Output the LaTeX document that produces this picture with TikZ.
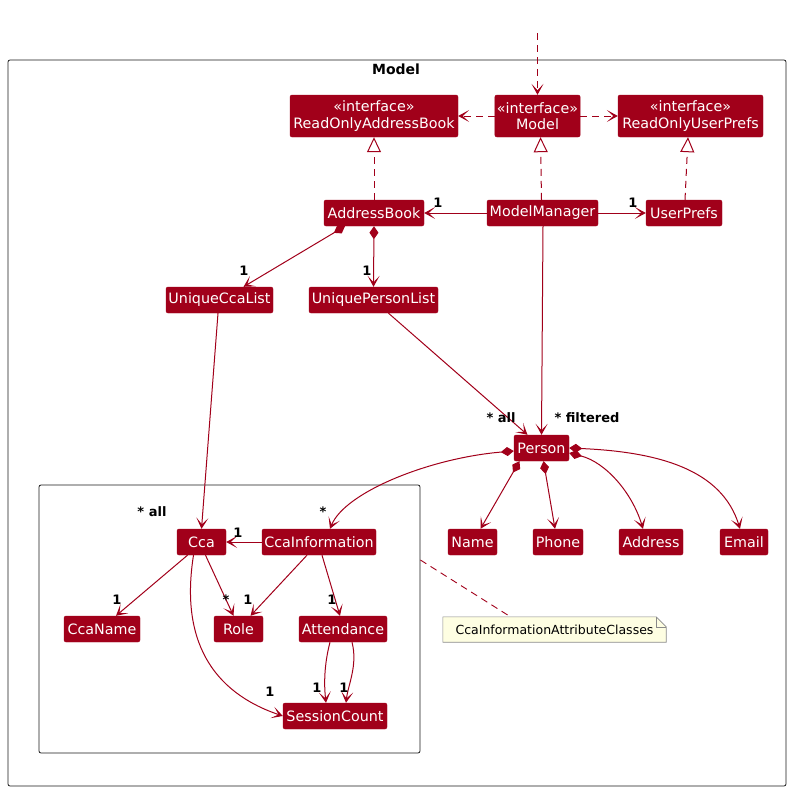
\documentclass[tikz,border=0pt]{standalone}
\usepackage{fontspec}
\setmainfont{DejaVu Sans}
\usetikzlibrary{positioning,arrows.meta,backgrounds}
\definecolor{umlRed}{HTML}{A1001A}
\definecolor{noteFill}{HTML}{FEFEE2}
\definecolor{noteLine}{HTML}{8A8A8A}
\definecolor{pkgLine}{HTML}{1A1A1A}

\begin{document}
\begin{tikzpicture}[x=1pt,y=-1pt,
          every node/.style={font=\fontsize{14.3}{16.5}\selectfont},
          cls/.style={draw=umlRed,fill=umlRed,text=white,rounded corners=2pt,
                      minimum height=26pt,inner xsep=2pt,inner ysep=1pt,align=center},
          iface/.style={cls,minimum height=42pt},
          pkg/.style={draw=pkgLine,line width=0.8pt,rounded corners=2pt},
          mult/.style={font=\bfseries\fontsize{13}{15}\selectfont,text=black},
          assoc/.style={draw=umlRed,line width=1pt,-{Stealth[length=11pt,width=12pt,inset=6.5pt]}},
          comp/.style={draw=umlRed,line width=1pt,
                       {Diamond[length=13pt,width=9pt]}-{Stealth[length=11pt,width=12pt,inset=6.5pt]}},
          dep/.style={assoc,dash pattern=on 7pt off 5pt},
          realize/.style={draw=umlRed,line width=1pt,dash pattern=on 7pt off 5pt,
                          -{Triangle[open,length=15pt,width=14pt,fill=white]}},
        ]
        \useasboundingbox (0,0) rectangle (790,790);
        % packages
        \node[pkg,minimum width=778pt,minimum height=726pt] (modelpkg) at (397,423) {};
        \node[font=\bfseries\fontsize{14}{16}\selectfont] (modeltitle) at (396,69) {Model};
        \node[pkg,minimum width=381pt,minimum height=268pt] (ccapkg) at (229.5,619) {};

        % interfaces
        \node[iface,minimum width=168pt] (roab) at (374,116) {«interface»\\ReadOnlyAddressBook};
        \node[iface,minimum width=85pt] (model) at (537.5,116) {«interface»\\Model};
        \node[iface,minimum width=145pt] (ropref) at (690.5,116) {«interface»\\ReadOnlyUserPrefs};
        \coordinate (ext) at (537.5,33);

        % classes
        \node[cls,minimum width=100pt] (ab) at (374,213) {AddressBook};
        \node[cls,minimum width=111pt] (mm) at (542.5,213) {ModelManager};
        \node[cls,minimum width=76pt] (up) at (684,213) {UserPrefs};
        \node[cls,minimum width=107pt] (ucl) at (219.5,300) {UniqueCcaList};
        \node[cls,minimum width=129pt] (upl) at (373.5,300) {UniquePersonList};
        \node[cls,minimum width=55pt] (person) at (541.5,448) {Person};
        \node[cls,minimum width=49pt] (name) at (472.5,542) {Name};
        \node[cls,minimum width=50pt] (phone) at (558,542) {Phone};
        \node[cls,minimum width=64pt] (address) at (651,542) {Address};
        \node[cls,minimum width=48pt] (email) at (744,542) {Email};
        \node[cls,minimum width=49pt] (cca) at (201.5,542) {Cca};
        \node[cls,minimum width=114pt] (ccainfo) at (319,542) {CcaInformation};
        \node[cls,minimum width=76pt] (ccaname) at (102,629) {CcaName};
        \node[cls,minimum width=49pt] (role) at (238.5,629) {Role};
        \node[cls,minimum width=88pt] (att) at (343,629) {Attendance};
        \node[cls,minimum width=104pt] (sc) at (335,716) {SessionCount};

        % note
        \node[font=\fontsize{12.5}{15}\selectfont,minimum width=223pt,minimum height=25pt]
              (note) at (554.5,629.5) {CcaInformationAttributeClasses};
        \begin{scope}[on background layer]
          \draw[noteLine,fill=noteFill,line width=0.6pt] (note.south west) |- ([xshift=-10pt]note.north east)
                -- ([yshift=-10pt]note.north east) -- (note.south east) -- cycle;
          \draw[noteLine,line width=0.6pt] ([xshift=-10pt]note.north east) |- ([yshift=-10pt]note.north east);
        \end{scope}
        \draw[umlRed,line width=0.9pt,dash pattern=on 7pt off 5pt]
              ([yshift=59pt]ccapkg.east) -- ([xshift=-44pt]note.north);

        % dependencies and realizations
        \draw[dep] (ext) -- (model.north);
        \draw[dep] (model.west) -- (roab.east);
        \draw[dep] (model.east) -- (ropref.west);
        \draw[realize] (ab.north) -- (roab.south);
        \draw[realize] ([xshift=-1pt]mm.north) -- ([xshift=3pt]model.south);
        \draw[realize] ([xshift=1pt]up.north) -- ([xshift=-2.5pt]ropref.south);

        % associations
        \draw[assoc] (mm.west) -- (ab.east);
        \node[mult] (m1) at (438,203) {1};
        \draw[assoc] (mm.east) -- (up.west);
        \node[mult] (m2) at (633,203) {1};
        \draw[comp] ([xshift=-29pt]ab.south) -- ([xshift=24pt]ucl.north);
        \node[mult] (m3) at (244,271) {1};
        \draw[comp] (ab.south) -- (upl.north);
        \node[mult] (m4) at (367,271) {1};
        \draw[assoc] ([xshift=15pt]upl.south) -- ([xshift=-14pt]person.north);
        \node[mult] (m5) at (501,418) {* all};
        \draw[assoc] ([xshift=0.5pt]mm.south) -- (person.north);
        \node[mult] (m6) at (587,418) {* filtered};
        \draw[assoc] ([xshift=-1.5pt]ucl.south) -- (cca.north);
        \node[mult] (m7) at (152,512) {* all};

        % person attributes
        \draw[comp] ([yshift=-3pt]person.west) .. controls (430,458) and (345,492) .. ([xshift=11pt]ccainfo.north);
        \node[mult] (m8) at (323,512) {*};
        \draw[comp] ([xshift=-22pt]person.south) -- ([xshift=8pt]name.north);
        \draw[comp] ([xshift=2pt]person.south) -- ([xshift=-3pt]phone.north);
        \draw[comp] ([yshift=-5pt]person.east) .. controls (605,462) and (632,492) .. ([xshift=-8pt]address.north);
        \draw[comp] (person.east) .. controls (660,452) and (722,470) .. ([xshift=-4pt]email.north);

        % cca classes
        \draw[assoc] (ccainfo.west) -- (cca.east);
        \node[mult] (m9) at (238,533) {1};
        \draw[assoc] ([xshift=-14pt]cca.south) -- ([xshift=14pt]ccaname.north);
        \node[mult] (m10) at (117,600) {1};
        \draw[assoc] ([xshift=4pt]cca.south) -- ([xshift=-5pt]role.north);
        \node[mult] (m11) at (226,600) {*};
        \draw[assoc] ([xshift=-12pt]ccainfo.south) -- ([xshift=12pt]role.north);
        \node[mult] (m12) at (248,600) {1};
        \draw[assoc] ([xshift=3pt]ccainfo.south) -- ([xshift=-3pt]att.north);
        \node[mult] (m13) at (332,600) {1};
        \draw[assoc] ([xshift=-8pt]cca.south) .. controls (180,640) and (212,692) .. (sc.west);
        \node[mult] (m14) at (270,692) {1};
        \draw[assoc] ([xshift=-13pt]att.south) .. controls (324,665) and (324,685) .. ([xshift=-9pt]sc.north);
        \node[mult] (m15) at (317,688) {1};
        \draw[assoc] ([xshift=9pt]att.south) .. controls (358,665) and (348,685) .. ([xshift=11pt]sc.north);
        \node[mult] (m16) at (344,688) {1};
      \end{tikzpicture}
\end{document}
